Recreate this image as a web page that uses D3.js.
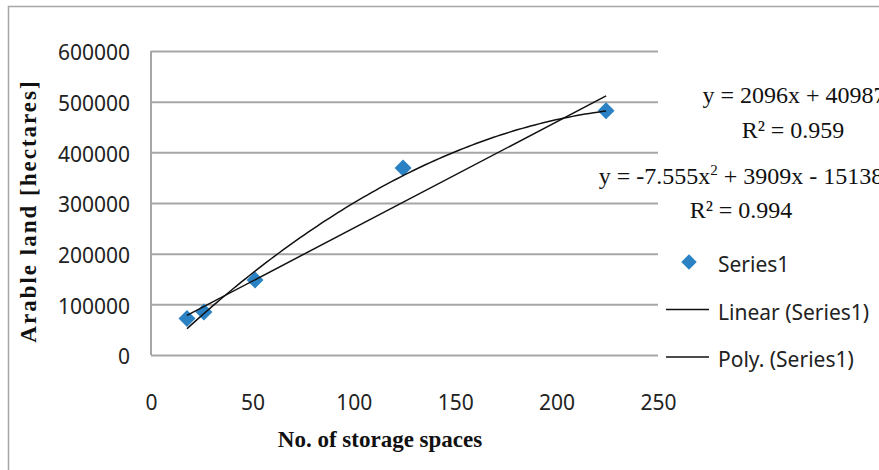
<!DOCTYPE html>
<html>
<head>
<meta charset="utf-8">
<script src="https://cdn.jsdelivr.net/npm/d3@7"></script>
<style>
  body { margin: 0; background: #fff; }
  .tick text { font-family: "Noto Sans", sans-serif; font-size: 21px; fill: #222; }
</style>
</head>
<body>
<svg id="chart"></svg>
<script>
// data
const storageSpaces = [17.75, 26.1, 51.3, 124.3, 224.4];
const arableLand = [72000, 85000, 148000, 369000, 482000];
const xTicks = [0, 50, 100, 150, 200, 250];
const yTicks = [0, 100000, 200000, 300000, 400000, 500000, 600000];
// trendline coefficients as printed on the chart
const linearCoef = [2096, 40987];
const polyCoef = [-7.555, 3909, -15138];
const legendLabels = ['Series1', 'Linear (Series1)', 'Poly. (Series1)'];

const width = 879;
const height = 470;
const margin = { top: 51, right: 221, bottom: 115, left: 151 };
const plotW = width - margin.left - margin.right;
const plotH = height - margin.top - margin.bottom;
const blue = '#2a82c4';
const gridColor = '#a6a6a6';

const svg = d3.select('#chart')
  .attr('width', width)
  .attr('height', height);

// outer chart border (left and top edges visible)
svg.append('rect')
  .attr('x', 8.5).attr('y', 6.5)
  .attr('width', 1000).attr('height', 1000)
  .attr('fill', 'none')
  .attr('stroke', gridColor)
  .attr('stroke-width', 1.5);

const x = d3.scaleLinear().domain([0, 250]).range([margin.left, margin.left + plotW]);
const y = d3.scaleLinear().domain([0, 600000]).range([margin.top + plotH, margin.top]);

// horizontal gridlines
const grid = svg.append('g')
  .attr('transform', `translate(${margin.left},0)`)
  .call(d3.axisLeft(y).tickValues(yTicks).tickSize(-plotW).tickFormat(''));
grid.select('.domain').remove();
grid.selectAll('line').attr('stroke', gridColor).attr('stroke-width', 2);

// vertical axis line
svg.append('line')
  .attr('x1', margin.left).attr('x2', margin.left)
  .attr('y1', y(600000)).attr('y2', y(0))
  .attr('stroke', gridColor).attr('stroke-width', 2);

// y tick labels
const yAxis = svg.append('g')
  .attr('transform', `translate(${margin.left},0)`)
  .call(d3.axisLeft(y).tickValues(yTicks).tickSize(0).tickPadding(21).tickFormat(d => d));
yAxis.select('.domain').remove();
yAxis.selectAll('text').attr('dy', '0.42em');

// x tick labels
const xAxis = svg.append('g')
  .attr('transform', `translate(0,${y(0)})`)
  .call(d3.axisBottom(x).tickValues(xTicks).tickSize(0).tickPadding(40));
xAxis.select('.domain').remove();

// data points (diamonds)
const diamond = d3.symbol().type(d3.symbolSquare).size(144);
svg.append('g')
  .selectAll('path')
  .data(storageSpaces)
  .enter()
  .append('path')
  .attr('d', diamond)
  .attr('transform', (d, i) => `translate(${x(d)},${y(arableLand[i])}) rotate(45)`)
  .attr('fill', blue);

// trendlines
const xMin = d3.min(storageSpaces);
const xMax = d3.max(storageSpaces);
const xs = d3.range(0, 101).map(i => xMin + (xMax - xMin) * i / 100);
const line = d3.line().x(d => x(d[0])).y(d => y(d[1]));

svg.append('path')
  .datum([xMin, xMax].map(v => [v, linearCoef[0] * v + linearCoef[1]]))
  .attr('d', line)
  .attr('fill', 'none')
  .attr('stroke', '#111')
  .attr('stroke-width', 1.5);

svg.append('path')
  .datum(xs.map(v => [v, polyCoef[0] * v * v + polyCoef[1] * v + polyCoef[2]]))
  .attr('d', line)
  .attr('fill', 'none')
  .attr('stroke', '#111')
  .attr('stroke-width', 1.5);

// trendline labels
const serif = '"Liberation Serif", "Times New Roman", serif';
const eq = svg.append('g')
  .attr('font-family', serif)
  .attr('font-size', 24)
  .attr('fill', '#111')
  .attr('text-anchor', 'middle');

eq.append('text').attr('x', 794).attr('y', 103)
  .text(`y = ${linearCoef[0]}x + ${linearCoef[1]}`);
eq.append('text').attr('x', 793).attr('y', 138).text('R² = 0.959');

const polyText = eq.append('text').attr('x', 741).attr('y', 184);
polyText.append('tspan').text(`y = ${polyCoef[0]}x`);
polyText.append('tspan').attr('font-size', 15).attr('dy', -9).text('2');
polyText.append('tspan').attr('dy', 9).text(` + ${polyCoef[1]}x - ${-polyCoef[2]}`);
eq.append('text').attr('x', 741).attr('y', 218).text('R² = 0.994');

// axis titles
svg.append('text')
  .attr('transform', 'translate(36,211) rotate(-90)')
  .attr('text-anchor', 'middle')
  .attr('font-family', serif)
  .attr('font-weight', 'bold')
  .attr('font-size', 23)
  .attr('letter-spacing', 2)
  .attr('fill', '#111')
  .text('Arable land [hectares]');

svg.append('text')
  .attr('x', 380)
  .attr('y', 447)
  .attr('text-anchor', 'middle')
  .attr('font-family', serif)
  .attr('font-weight', 'bold')
  .attr('font-size', 23)
  .attr('fill', '#111')
  .text('No. of storage spaces');

// legend
const legend = svg.append('g');
legendLabels.forEach((label, i) => {
  const base = 272 + i * 47.5;
  if (i === 0) {
    legend.append('path')
      .attr('d', d3.symbol().type(d3.symbolSquare).size(120))
      .attr('transform', `translate(689,${base - 10}) rotate(45)`)
      .attr('fill', blue);
  } else {
    legend.append('line')
      .attr('x1', 666).attr('x2', 709)
      .attr('y1', base - 10).attr('y2', base - 10)
      .attr('stroke', '#111').attr('stroke-width', 1.5);
  }
  legend.append('text')
    .attr('x', 718)
    .attr('y', base)
    .attr('font-family', '"Noto Sans", sans-serif')
    .attr('font-size', 21)
    .attr('fill', '#222')
    .text(label);
});
</script>
</body>
</html>
